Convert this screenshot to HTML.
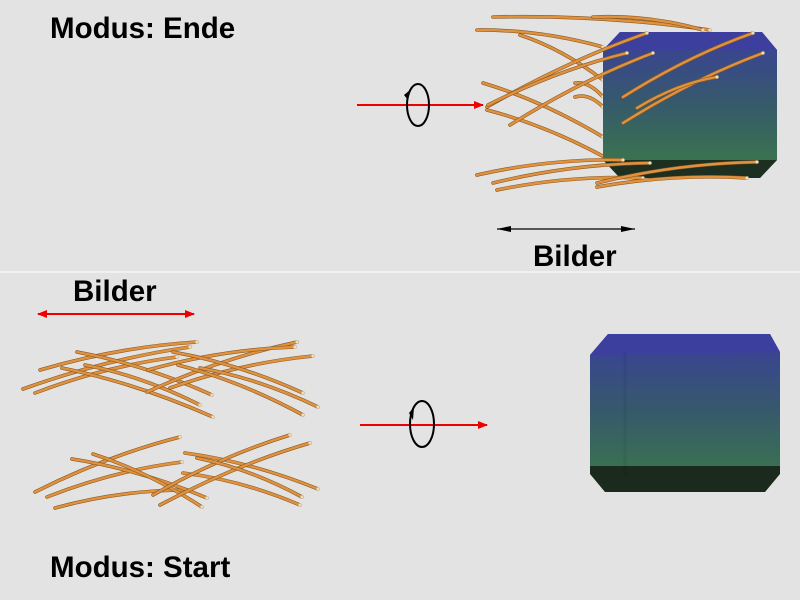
<!DOCTYPE html>
<html><head><style>
body{margin:0;background:#e3e3e3;width:800px;height:600px;overflow:hidden}
svg{display:block}
text{font-family:"Liberation Sans",sans-serif;font-weight:bold;fill:#000}
</style></head><body>
<svg id="s" width="800" height="600" viewBox="0 0 800 600">
<defs>
<linearGradient id="g" x1="0" y1="0" x2="0" y2="1">
<stop offset="0" stop-color="#3b3f9c"/><stop offset="0.5" stop-color="#365a6a"/><stop offset="1" stop-color="#3c7a48"/>
</linearGradient>
<marker id="rh" markerWidth="10" markerHeight="8" refX="9" refY="4" orient="auto" markerUnits="userSpaceOnUse"><path d="M0,0L10,4L0,8z" fill="#e00"/></marker>
<marker id="rt" markerWidth="10" markerHeight="8" refX="1" refY="4" orient="auto" markerUnits="userSpaceOnUse"><path d="M10,0L0,4L10,8z" fill="#e00"/></marker>
</defs>
<rect width="800" height="600" fill="#e3e3e3"/>
<line x1="0" y1="272" x2="800" y2="272" stroke="#f4f4f4" stroke-width="1.5"/>
<g id="hairsBack"></g>
<polygon points="603,50 620,32 762,32 777,50 777,160 760,178 620,178 603,160" fill="url(#g)"/>
<polygon points="603,50 620,32 762,32 777,50" fill="#3d3f9f"/>
<polygon points="603,160 777,160 760,178 620,178" fill="#1d2f20"/>
<polygon points="590,355 608,334 770,334 780,352 780,472 765,492 605,492 590,470" fill="url(#g)"/>
<polygon points="590,355 608,334 770,334 780,352" fill="#3d3f9f"/>
<polygon points="590,466 780,466 780,474 765,492 605,492 590,474" fill="#1a2a1c"/>
<line x1="625" y1="352" x2="625" y2="475" stroke="#000" stroke-opacity="0.06" stroke-width="3"/>
<g id="hairs"></g>
<line x1="357" y1="105" x2="483" y2="105" stroke="#e00" stroke-width="2" marker-end="url(#rh)"/>
<ellipse cx="418" cy="105" rx="11" ry="21" fill="none" stroke="#000" stroke-width="2"/>
<path d="M404,95 L410,90 L408,100z" fill="#000"/>
<line x1="360" y1="425" x2="487" y2="425" stroke="#e00" stroke-width="2" marker-end="url(#rh)"/>
<ellipse cx="422" cy="424" rx="12" ry="23" fill="none" stroke="#000" stroke-width="2"/>
<path d="M409,413 L414,407 L413,420z" fill="#000"/>
<line x1="38" y1="314" x2="194" y2="314" stroke="#e00" stroke-width="2" marker-end="url(#rh)" marker-start="url(#rt)"/>
<line x1="497" y1="229" x2="635" y2="229" stroke="#000" stroke-width="1.2"/>
<path d="M497,229 L511,226 L511,232z M635,229 L621,226 L621,232z" fill="#000"/>
<text x="50" y="38" font-size="29.5">Modus: Ende</text>
<text x="533" y="266" font-size="29.5">Bilder</text>
<text x="73" y="301" font-size="29.5">Bilder</text>
<text x="50" y="577" font-size="29.5">Modus: Start</text>
</svg>
<script>
var front=[[487,107,647,33],[510,125,653,53],[488,105,627,53],[623,97,753,33],[623,123,763,53],[637,108,717,77],
[477,175,623,160],[493,183,650,163],[497,190,643,178],[597,183,757,162],[597,187,747,178],
[40,370,197,342],[23,389,190,347],[35,393,177,357],[77,352,212,395],[62,368,213,417],[85,365,200,405],[147,392,297,342],[170,388,313,356],[148,370,295,347],[173,352,303,393],[178,365,303,415],[200,368,318,407],
[35,492,180,437],[47,497,182,462],[55,508,187,490],[72,459,207,498],[93,454,202,507],[185,453,318,489],[183,473,300,505],[153,495,290,435],[160,505,310,443],[197,458,302,497]];
var back=[[493,17,710,30],[477,30,603,47],[593,17,703,30],[483,83,603,137],[487,110,610,160],[575,83,603,97],[575,97,603,107],[520,35,603,80]];
function draw(id,arr){var g=document.getElementById(id),h='';arr.forEach(function(a){var mx=(a[0]+a[2])/2,my=(a[1]+a[3])/2-9;
h+='<path d="M'+a[0]+','+a[1]+' Q'+mx+','+my+' '+a[2]+','+a[3]+'" fill="none" stroke="#8a5a25" stroke-width="3.6" stroke-linecap="round"/>';
h+='<path d="M'+a[0]+','+a[1]+' Q'+mx+','+my+' '+a[2]+','+a[3]+'" fill="none" stroke="#e0923f" stroke-width="2.4" stroke-linecap="round"/>';
h+='<circle cx="'+a[2]+'" cy="'+a[3]+'" r="1.6" fill="#e8e0c0"/>';});g.innerHTML=h;}
draw('hairsBack',back);draw('hairs',front);
</script>
</body></html>
